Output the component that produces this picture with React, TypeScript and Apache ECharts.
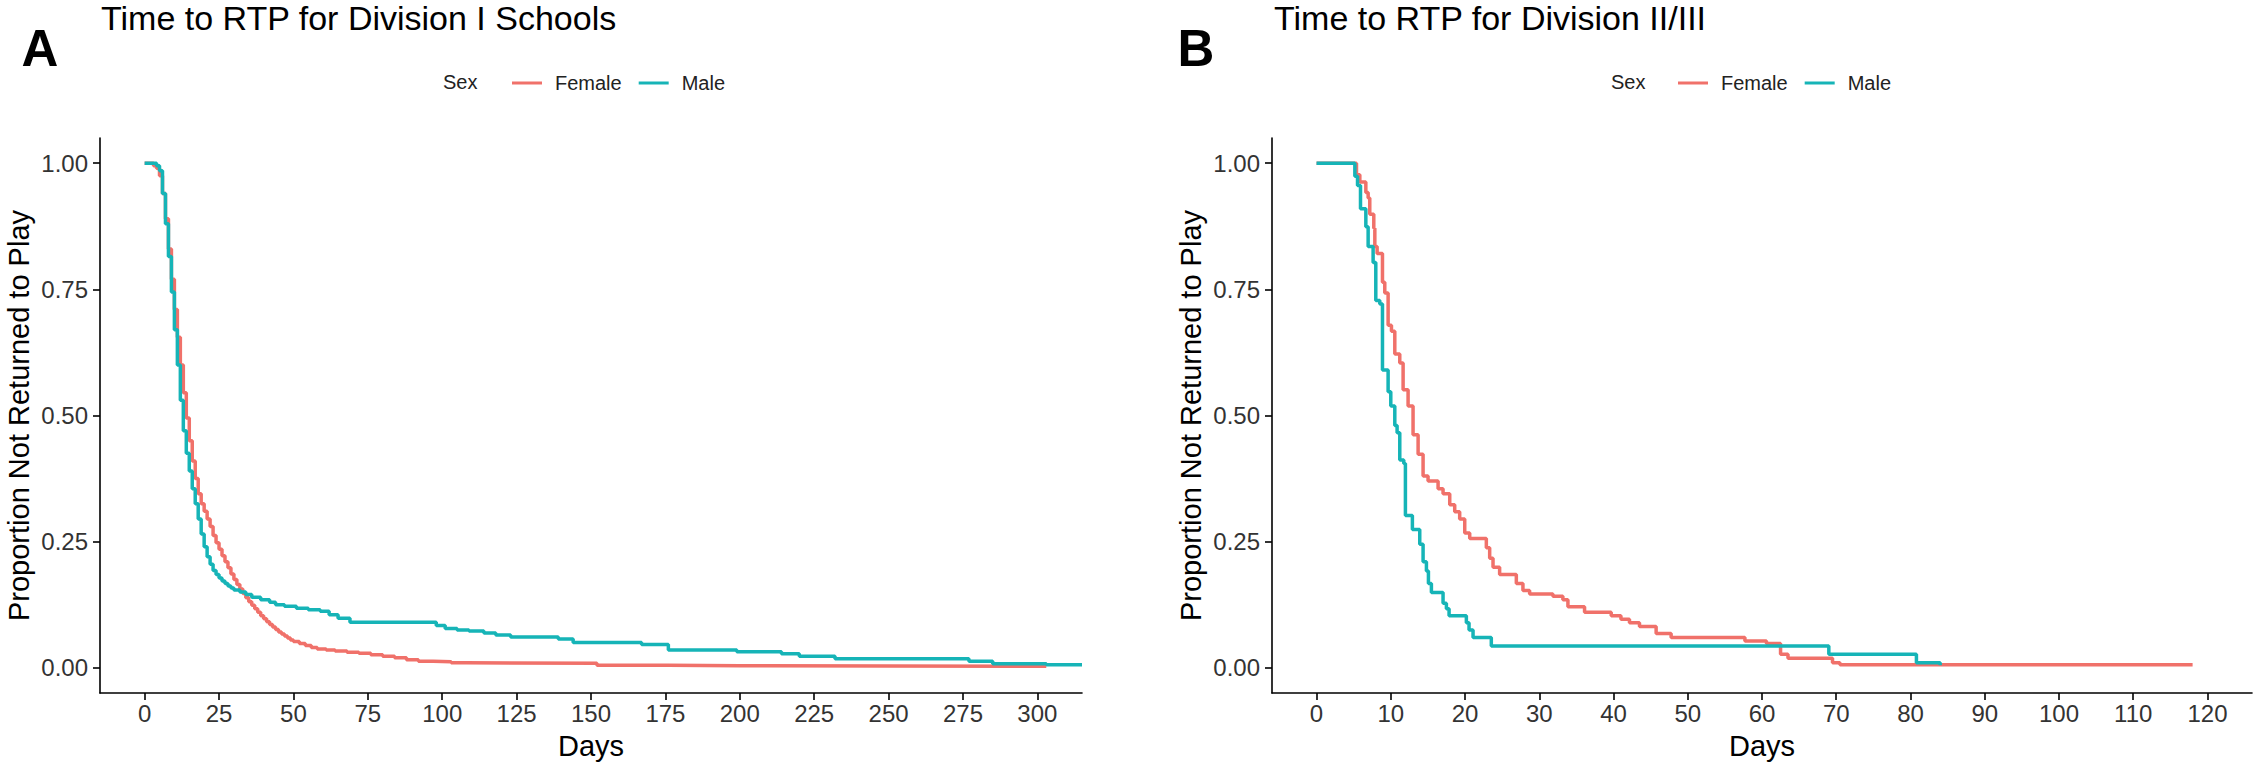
import { useEffect, useRef } from "react";
import * as echarts from "echarts";

const panelTitles = ["Time to RTP for Division I Schools", "Time to RTP for Division II/III"];
const panelLetters = ["A", "B"];
const legendTitle = "Sex";
const groupNames = ["Female", "Male"];
const xAxisTitle = "Days";
const yAxisTitle = "Proportion Not Returned to Play";
const yTicks = [0, 0.25, 0.5, 0.75, 1];
const xTicksA = [0, 25, 50, 75, 100, 125, 150, 175, 200, 225, 250, 275, 300];
const xTicksB = [0, 10, 20, 30, 40, 50, 60, 70, 80, 90, 100, 110, 120];

// Panel A: Division I
const femaleADays = [0, 3, 4, 5, 6, 7, 8, 9, 10, 11, 12, 13, 14, 15, 16, 17, 18, 19, 20, 21, 22, 23, 24, 25, 26, 27, 28, 29, 30, 31, 32, 33, 34, 35, 36, 37, 38, 39, 40, 41, 42, 43, 44, 45, 46, 47, 48, 49, 50, 52, 54, 56, 58, 61, 64, 68, 72, 76, 80, 84, 88, 92, 97, 103, 108, 152, 176, 200, 303];
const femaleASurv = [1, 0.995, 0.99, 0.975, 0.94, 0.89, 0.83, 0.77, 0.71, 0.655, 0.6, 0.545, 0.495, 0.45, 0.41, 0.375, 0.345, 0.325, 0.31, 0.295, 0.28, 0.262, 0.248, 0.235, 0.222, 0.21, 0.198, 0.186, 0.175, 0.165, 0.156, 0.147, 0.139, 0.131, 0.124, 0.117, 0.11, 0.103, 0.097, 0.091, 0.086, 0.081, 0.076, 0.071, 0.067, 0.063, 0.059, 0.055, 0.052, 0.048, 0.044, 0.04, 0.037, 0.035, 0.033, 0.031, 0.029, 0.026, 0.023, 0.02, 0.016, 0.013, 0.012, 0.01, 0.009, 0.005, 0.004, 0.003, 0.003];
const maleADays = [0, 4, 5, 6, 7, 8, 9, 10, 11, 12, 13, 14, 15, 16, 17, 18, 19, 20, 21, 22, 23, 24, 25, 26, 27, 28, 29, 30, 32, 34, 36, 39, 42, 44, 47, 51, 55, 59, 62, 65, 69, 98, 101, 105, 109, 114, 118, 123, 139, 144, 167, 176, 199, 214, 220, 232, 277, 285, 303, 315];
const maleASurv = [1, 0.995, 0.985, 0.94, 0.88, 0.815, 0.745, 0.67, 0.6, 0.53, 0.47, 0.425, 0.39, 0.355, 0.325, 0.295, 0.265, 0.24, 0.22, 0.205, 0.193, 0.185, 0.178, 0.172, 0.167, 0.162, 0.158, 0.154, 0.15, 0.145, 0.14, 0.135, 0.13, 0.125, 0.122, 0.118, 0.115, 0.112, 0.105, 0.098, 0.09, 0.084, 0.078, 0.075, 0.073, 0.069, 0.065, 0.061, 0.057, 0.05, 0.046, 0.035, 0.032, 0.028, 0.023, 0.018, 0.013, 0.008, 0.006, 0.006];

// Panel B: Division II/III
const femaleBDays = [0, 5.38, 5.83, 6.64, 6.95, 7.17, 7.71, 7.85, 8.16, 8.88, 9.19, 9.64, 10.09, 10.54, 11.21, 11.66, 12.33, 13.0, 13.68, 14.35, 15.02, 16.37, 17.04, 17.94, 18.61, 19.28, 19.96, 20.63, 22.87, 23.32, 23.77, 24.66, 26.91, 27.8, 28.7, 31.84, 33.18, 33.86, 36.1, 39.69, 41.0, 42.15, 43.5, 45.74, 47.76, 57.7, 60.6, 62.5, 63.5, 69.5, 70.5, 118];
const femaleBSurv = [1, 0.977, 0.963, 0.942, 0.931, 0.899, 0.871, 0.835, 0.821, 0.764, 0.743, 0.679, 0.667, 0.622, 0.604, 0.551, 0.519, 0.462, 0.423, 0.38, 0.37, 0.355, 0.345, 0.323, 0.309, 0.295, 0.267, 0.256, 0.238, 0.217, 0.199, 0.185, 0.167, 0.153, 0.146, 0.142, 0.135, 0.121, 0.11, 0.103, 0.096, 0.089, 0.082, 0.068, 0.06, 0.053, 0.048, 0.027, 0.019, 0.01, 0.006, 0.006];
const maleBDays = [0, 5.16, 5.52, 5.92, 6.64, 6.95, 7.62, 7.98, 8.52, 8.88, 9.64, 10.0, 10.54, 10.85, 11.21, 11.75, 11.97, 12.91, 13.9, 14.35, 14.8, 15.07, 15.47, 17.04, 17.49, 17.85, 20.18, 20.54, 21.08, 23.54, 69.0, 80.8, 84];
const maleBSurv = [1, 0.974, 0.956, 0.91, 0.874, 0.835, 0.803, 0.728, 0.721, 0.59, 0.547, 0.519, 0.48, 0.466, 0.412, 0.405, 0.302, 0.274, 0.245, 0.21, 0.192, 0.167, 0.149, 0.128, 0.117, 0.103, 0.089, 0.075, 0.06, 0.043, 0.027, 0.01, 0.005];

const FONT = "'Liberation Sans', Arial, Helvetica, sans-serif";
const RED = "#F0716A";
const TEAL = "#16B4B7";

const pair = (d: number[], s: number[]) => d.map((x, i) => [x, s[i]]);

export default function App() {
  const ref = useRef<HTMLDivElement>(null);

  useEffect(() => {
    if (!ref.current) return;
    const chart = echarts.init(ref.current, null, { renderer: "svg" });

    const panels = [
      { left: 100, width: 982, xmin: -15, xmax: 315, ticks: xTicksA, letterX: 40, titleX: 101, legendX: 507, sexX: 443 },
      { left: 1272, width: 980, xmin: -6, xmax: 126, ticks: xTicksB, letterX: 1196, titleX: 1274, legendX: 1673, sexX: 1611 },
    ];
    const seriesData = [
      [pair(femaleADays, femaleASurv), pair(maleADays, maleASurv)],
      [pair(femaleBDays, femaleBSurv), pair(maleBDays, maleBSurv)],
    ];
    const colors = [RED, TEAL];
    const axisLine = { show: true, onZero: false, lineStyle: { color: "#000", width: 1.6 } };

    const option: any = {
      animation: false,
      backgroundColor: "#fff",
      grid: panels.map((p) => ({ left: p.left, width: p.width, top: 138, height: 555, containLabel: false })),
      xAxis: panels.map((p, i) => ({
        type: "value",
        gridIndex: i,
        min: p.xmin,
        max: p.xmax,
        axisLine,
        axisTick: { show: true, length: 7, customValues: p.ticks, lineStyle: { color: "#000", width: 1.6 } },
        axisLabel: { customValues: p.ticks, fontSize: 24, color: "#333", margin: 8, fontFamily: FONT },
        splitLine: { show: false },
        name: xAxisTitle,
        nameLocation: "middle",
        nameGap: 38,
        nameTextStyle: { fontSize: 29, color: "#000", fontFamily: FONT },
      })),
      yAxis: panels.map((p, i) => ({
        type: "value",
        gridIndex: i,
        min: -0.05,
        max: 1.05,
        axisLine,
        axisTick: { show: true, length: 7, customValues: yTicks, lineStyle: { color: "#000", width: 1.6 } },
        axisLabel: {
          customValues: yTicks,
          fontSize: 24,
          color: "#333",
          margin: 12,
          fontFamily: FONT,
          formatter: (v: number) => v.toFixed(2),
        },
        splitLine: { show: false },
        name: yAxisTitle,
        nameLocation: "middle",
        nameGap: 67,
        nameTextStyle: { fontSize: 29, color: "#000", fontFamily: FONT },
      })),
      legend: panels.map((p) => ({
        data: groupNames,
        left: p.legendX,
        top: 68,
        icon: "rect",
        itemWidth: 30,
        itemHeight: 3,
        itemGap: 17,
        textStyle: { fontSize: 20, color: "#222", fontFamily: FONT, padding: [0, 0, 0, 8] },
      })),
      graphic: [
        ...panels.map((p, i) => ({
          type: "text",
          x: p.titleX,
          y: 1,
          style: { text: panelTitles[i], fontSize: 34, fill: "#000", fontFamily: FONT, verticalAlign: "top", align: "left" },
        })),
        ...panels.map((p, i) => ({
          type: "text",
          x: p.letterX,
          y: 48,
          style: { text: panelLetters[i], fontSize: 51, fontWeight: "bold", fill: "#000", fontFamily: FONT, verticalAlign: "middle", align: "center" },
        })),
        ...panels.map((p) => ({
          type: "text",
          x: p.sexX,
          y: 82,
          style: { text: legendTitle, fontSize: 20, fill: "#222", fontFamily: FONT, verticalAlign: "middle", align: "left" },
        })),
      ],
      series: panels.flatMap((p, i) =>
        groupNames.map((g, j) => ({
          type: "line",
          name: g,
          xAxisIndex: i,
          yAxisIndex: i,
          step: "end",
          showSymbol: false,
          symbol: "none",
          data: seriesData[i][j],
          lineStyle: { color: colors[j], width: 3.5 },
          itemStyle: { color: colors[j] },
          z: 2 + j,
        }))
      ),
    };

    chart.setOption(option);
    return () => chart.dispose();
  }, []);

  return <div ref={ref} style={{ position: "absolute", left: 0, top: 0, width: 2258, height: 770 }} />;
}
